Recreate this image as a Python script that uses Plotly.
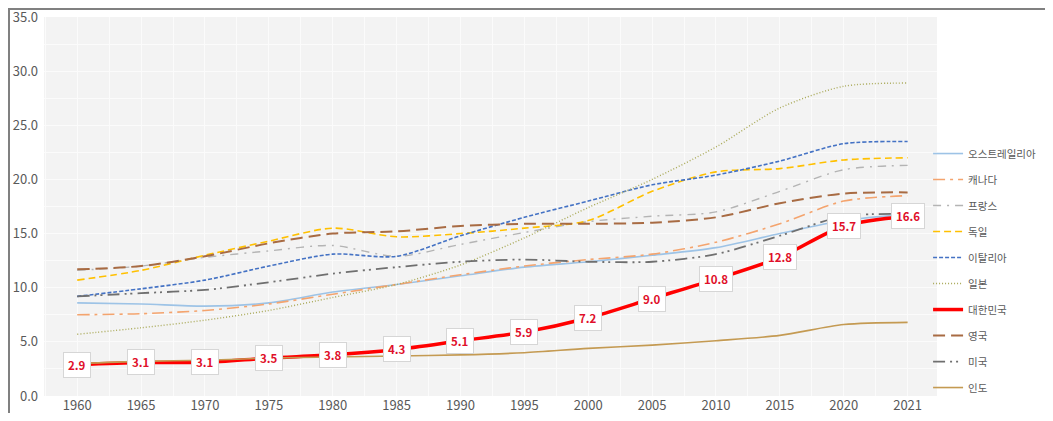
import plotly.graph_objects as go

# years on the x axis (categorical, evenly spaced)
years = ["1960", "1965", "1970", "1975", "1980", "1985", "1990",
         "1995", "2000", "2005", "2010", "2015", "2020", "2021"]

australia = [8.6, 8.5, 8.3, 8.6, 9.6, 10.3, 11.1, 11.9, 12.4, 13.0, 13.7, 15.0, 16.2, 16.8]
canada = [7.5, 7.6, 7.9, 8.5, 9.4, 10.3, 11.2, 12.0, 12.6, 13.1, 14.2, 15.9, 18.0, 18.5]
france = [11.6, 12.0, 12.8, 13.4, 13.9, 12.9, 14.0, 15.1, 16.1, 16.6, 17.0, 18.9, 20.9, 21.3]
germany = [10.7, 11.6, 13.0, 14.3, 15.5, 14.7, 15.0, 15.5, 16.2, 18.9, 20.7, 21.0, 21.8, 22.0]
italy = [9.2, 9.9, 10.7, 12.0, 13.1, 12.9, 14.8, 16.5, 18.0, 19.5, 20.4, 21.7, 23.3, 23.5]
japan = [5.7, 6.3, 7.0, 7.9, 9.1, 10.3, 12.1, 14.6, 17.4, 20.0, 23.0, 26.6, 28.6, 28.9]
korea = [2.9, 3.1, 3.1, 3.5, 3.8, 4.3, 5.1, 5.9, 7.2, 9.0, 10.8, 12.8, 15.7, 16.6]
uk = [11.7, 12.0, 12.9, 14.1, 15.0, 15.2, 15.7, 15.9, 15.9, 16.0, 16.5, 17.8, 18.7, 18.8]
usa = [9.2, 9.5, 9.8, 10.5, 11.3, 11.9, 12.4, 12.6, 12.4, 12.4, 13.1, 14.8, 16.6, 16.8]
india = [3.0, 3.2, 3.3, 3.5, 3.6, 3.7, 3.8, 4.0, 4.4, 4.7, 5.1, 5.6, 6.6, 6.8]

xs = list(range(len(years)))

series = [
    ("오스트레일리아", australia, "#9dc3e6", "solid", 1.6),
    ("캐나다", canada, "#f4a46e", "12px,5px,3px,5px", 1.6),
    ("프랑스", france, "#b4b4b4", "8px,6px,2px,6px", 1.4),
    ("독일", germany, "#ffc000", "7px,4px", 1.6),
    ("이탈리아", italy, "#4472c4", "4px,2px", 1.6),
    ("일본", japan, "#a9a957", "1px,2px", 1.4),
    ("대한민국", korea, "#ff0000", "solid", 3.5),
    ("영국", uk, "#a86b43", "12px,6px", 2),
    ("미국", usa, "#6f6f6f", "12px,5px,2px,4px,2px,5px", 1.8),
    ("인도", india, "#c49a52", "solid", 1.6),
]

fig = go.Figure()
for i, (name, vals, color, dash, w) in enumerate(series):
    fig.add_trace(go.Scatter(
        x=xs, y=vals, name=name, mode="lines",
        line=dict(color=color, dash=dash, width=w, shape="spline", smoothing=0.8),
        legendgroup=f"g{i}",
    ))

# Korea value labels
for x, v in zip(xs, korea):
    fig.add_annotation(
        x=x, y=v, text=f"<b>{v:.1f}</b>", showarrow=False,
        font=dict(color="#e0102a", size=11.5),
        bgcolor="white", bordercolor="#d6d6d6", borderwidth=1, borderpad=4,
    )

# outer frame (top and left edges visible)
fig.add_shape(type="rect", xref="paper", yref="paper",
              x0=-0.0392, x1=1.3, y0=-0.3, y1=1.0211,
              line=dict(color="#808080", width=2), layer="above")

fig.update_layout(
    width=1037, height=405,
    margin=dict(l=36, r=108, t=9, b=17, autoexpand=False),
    paper_bgcolor="white",
    plot_bgcolor="#f3f3f3",
    font=dict(family="Noto Sans CJK KR, Noto Sans, sans-serif", size=12, color="#595959"),
    showlegend=True,
    legend=dict(x=0.990, y=0.678, xanchor="left", yanchor="top",
                font=dict(size=10.5, color="#595959"),
                tracegroupgap=7, bgcolor="rgba(0,0,0,0)"),
    xaxis=dict(
        tickmode="array", tickvals=xs, ticktext=years,
        range=[-0.52, 13.46], showgrid=True, gridcolor="#fbfbfb", gridwidth=1,
        minor=dict(dtick=0.5, tick0=0, showgrid=True, gridcolor="#fbfbfb"),
        zeroline=False, showline=False, ticks="",
        tickfont=dict(size=13, color="#595959"),
    ),
    yaxis=dict(
        range=[0, 35], dtick=5, tickformat=".1f",
        showgrid=True, gridcolor="#fbfbfb", gridwidth=1,
        minor=dict(dtick=2.5, showgrid=True, gridcolor="#fbfbfb"),
        zeroline=False, showline=False, ticks="",
        ticklabeloverflow="allow", ticklabelstandoff=5,
        tickfont=dict(size=13, color="#595959"),
    ),
)

fig.write_html("out.html")
